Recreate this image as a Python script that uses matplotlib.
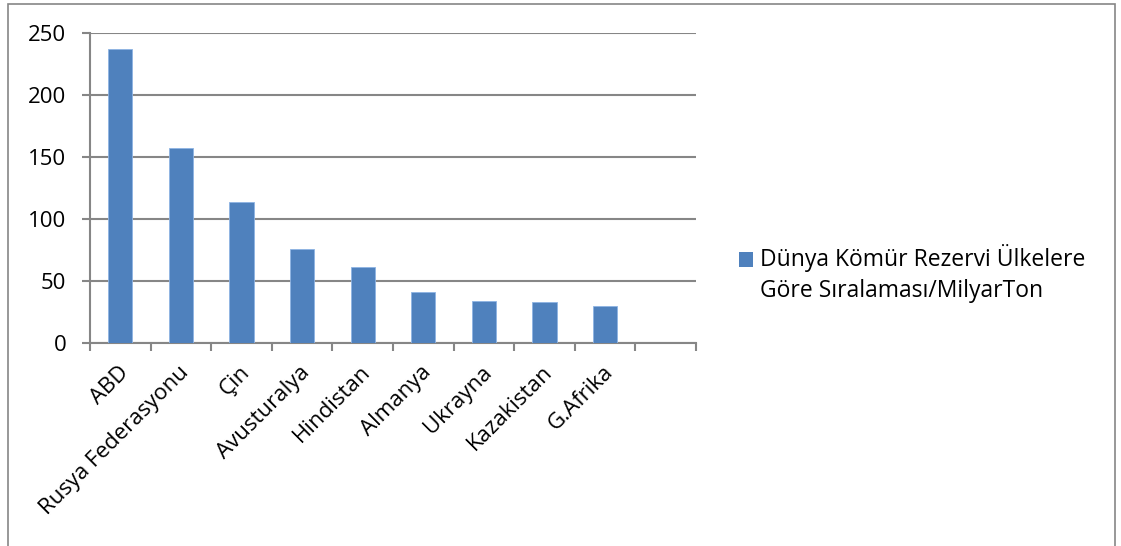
import matplotlib
matplotlib.use("Agg")
import matplotlib.pyplot as plt
import matplotlib.transforms as mtransforms
from matplotlib.patches import Rectangle
import numpy as np

categories = ["ABD", "Rusya Federasyonu", "Çin", "Avusturalya", "Hindistan",
              "Almanya", "Ukrayna", "Kazakistan", "G.Afrika", ""]
values = [237, 157, 114, 76, 61, 41, 34, 33, 30]
series_label = "Dünya Kömür Rezervi Ülkelere\nGöre Sıralaması/MilyarTon"
yticks = [0, 50, 100, 150, 200, 250]

W, H = 1121, 546
plt.rcParams['font.family'] = ['Open Sans', 'DejaVu Sans']
fig = plt.figure(figsize=(W / 100, H / 100), dpi=100)

def fx(px):
    return px / W

def fy(py):
    return 1 - py / H

# outer chart border
fig.patches.append(Rectangle((fx(8), fy(560)), fx(1115) - fx(8), fy(4) - fy(560),
                             transform=fig.transFigure, fill=False,
                             edgecolor='#868686', linewidth=1.2))

ax = fig.add_axes([fx(90), fy(343), fx(696) - fx(90), fy(33) - fy(343)])
grey = '#868686'
bar_color = '#4F81BD'

x = np.arange(len(categories))
ax.bar(x[:len(values)], values, width=0.4, color=bar_color,
       edgecolor='#8EB4E3', linewidth=0.6, zorder=3)

ax.set_xlim(-0.5, len(categories) - 0.5)
ax.set_ylim(0, 250)
ax.set_yticks(yticks)
ax.set_yticklabels([str(v) for v in yticks], fontsize=16)
ax.yaxis.grid(True, color=grey, linewidth=1.5, zorder=0)
ax.set_axisbelow(True)

ax.set_xticks(x)
ax.set_xticklabels(categories, rotation=45, ha='right', va='center',
                   rotation_mode='anchor', fontsize=16)
ax.tick_params(axis='x', which='major', length=0, pad=16)
offset = mtransforms.ScaledTranslation(5 / 100, -4 / 100, fig.dpi_scale_trans)
for lbl in ax.get_xticklabels():
    lbl.set_transform(lbl.get_transform() + offset)
ax.set_xticks(np.arange(-0.5, len(categories)), minor=True)
ax.tick_params(axis='x', which='minor', length=6, width=1.5, color=grey)
ax.tick_params(axis='y', length=6, width=1.5, color=grey, pad=11)

for s in ['top', 'right']:
    ax.spines[s].set_visible(False)
for s in ['left', 'bottom']:
    ax.spines[s].set_color(grey)
    ax.spines[s].set_linewidth(1.5)

# legend
fig.patches.append(Rectangle((fx(739), fy(267)), fx(753) - fx(739), fy(252) - fy(267),
                             transform=fig.transFigure, facecolor=bar_color,
                             edgecolor='none'))
fig.text(fx(760), fy(244), series_label, ha='left', va='top', fontsize=16.5,
         linespacing=1.4)

fig.savefig("out.png", dpi=100)
